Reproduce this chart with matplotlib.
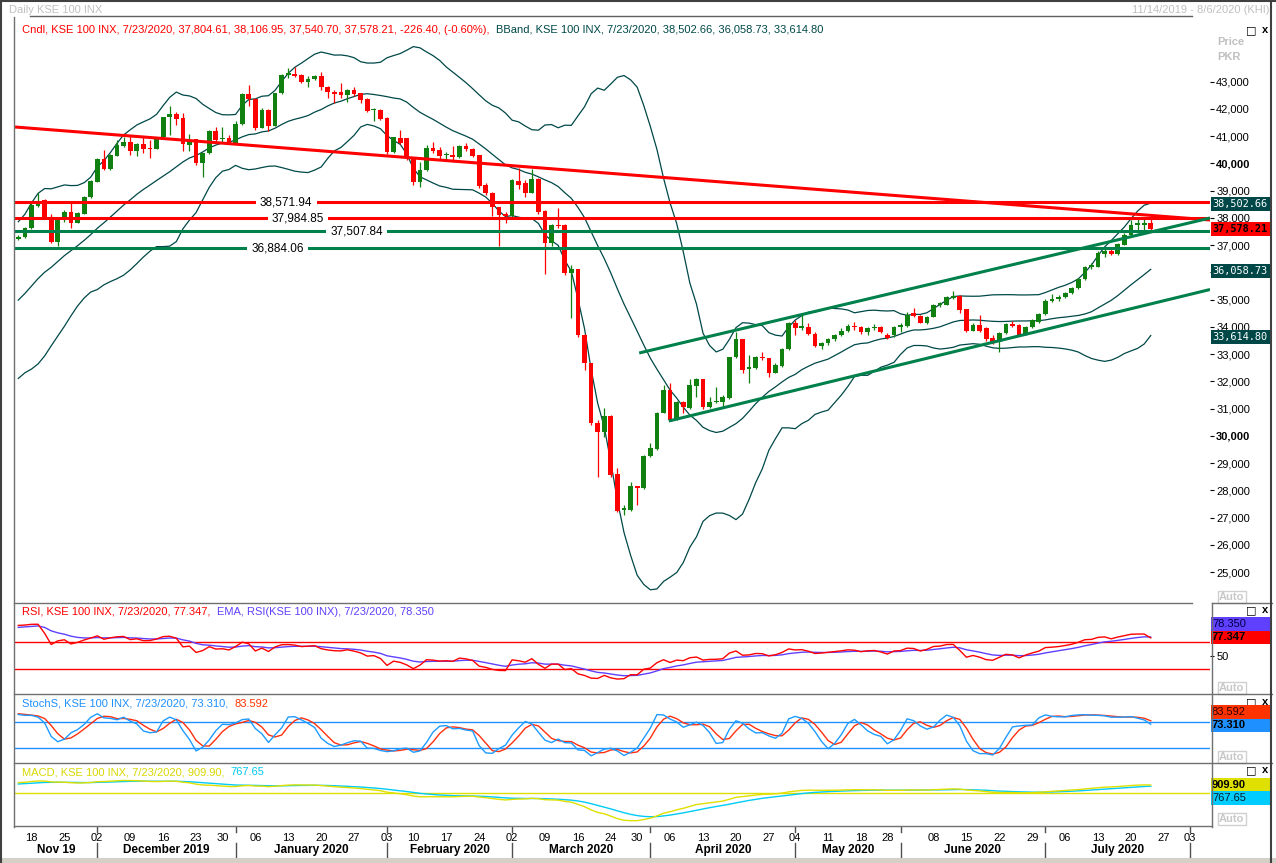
import numpy as np
import pandas as pd
import matplotlib
matplotlib.use('Agg')
import matplotlib.pyplot as plt
import matplotlib.transforms as mtransforms
from matplotlib.lines import Line2D
from matplotlib.patches import Rectangle

plt.rcParams['font.family'] = ['Liberation Sans', 'DejaVu Sans']

W, H = 1276, 863

# PSX trading calendar shown on the axis
start, end = '2019-11-14', '2020-08-06'
holidays = ['2019-12-25', '2020-02-05', '2020-03-23', '2020-05-01', '2020-05-22',
            '2020-05-25', '2020-05-26', '2020-05-27', '2020-07-31']

# closes before the first candle, only used to warm up the indicators
warmup_close = [29500, 29700, 29400, 29650, 29672, 29900, 30150, 30450, 30800, 30950,
                31200, 31400, 31100, 31300, 31600, 31900, 31600, 31550, 31850, 32200,
                32050, 31900, 31800, 32079, 31950, 31700, 31550, 31800, 32000, 32200,
                32400, 32300, 32550, 32700, 32600, 32500, 32750, 32600, 32700, 32650,
                32700, 32800, 33000, 33150, 33350, 33500, 33700, 33900, 34200, 34500,
                34850, 35150, 35500, 35800, 36050, 36250, 36450, 36650, 36650, 36950]

opens = [37215, 37288, 37618, 38450, 38658, 38046, 37126, 37949, 38230, 37826,
         38144, 38756, 39331, 40151, 39796, 40285, 40640, 40799, 40469, 40713,
         40579, 40530, 40958, 41692, 41814, 41655, 40677, 40885, 40028, 40371,
         41190, 40885, 40922, 40762, 41447, 42548, 42353, 41313, 41961, 41386,
         42573, 43246, 43282, 43246, 43001, 43086, 43221, 42817, 42634, 42634,
         42512, 42695, 42573, 42353, 41961, 41961, 41655, 40432, 40946, 40921,
         40187, 39331, 39759, 40554, 40493, 40298, 40310, 40224, 40640, 40518,
         40310, 39209, 38903, 38389, 38132, 38071, 39368, 39270, 38927, 39429,
         38255, 37092, 37728, 37741, 35991, 36114, 33704, 32664, 30486, 30156,
         30731, 28603, 27281, 27281, 28162, 28077, 29263, 29508, 30854, 31685,
         30609, 31257, 31012, 31832, 32077, 31073, 31245, 31257, 31380, 32884,
         33545, 32444, 32481, 32897, 32848, 32322, 32566, 33178, 34157, 33949,
         34010, 33741, 33300, 33400, 33550, 33700, 33850, 34050, 34000, 33800,
         33950, 33985, 33704, 33704, 33985, 34034, 34499, 34413, 34132, 34377,
         34805, 34805, 35049, 35135, 34646, 33863, 34071, 33948, 33581, 33459,
         33765, 34107, 34071, 33740, 33985, 34193, 34474, 34952, 35013, 35086,
         35233, 35416, 35747, 36187, 36211, 36676, 36799, 36676, 37006, 37373,
         37740, 37740, 37804.61]
highs = [37374, 37680, 38536, 38903, 38682, 38144, 37973, 38291, 38597, 38230,
         38805, 39392, 40187, 40493, 40334, 40860, 40982, 41007, 40762, 40958,
         40860, 40982, 41716, 42108, 41900, 41839, 41080, 40909, 40395, 41215,
         41325, 41325, 41044, 41570, 42573, 42879, 42389, 42022, 41985, 42597,
         43270, 43490, 43527, 43282, 43209, 43258, 43368, 42830, 42695, 42940,
         42720, 42817, 42597, 42389, 42022, 41985, 41692, 40982, 41227, 40921,
         40212, 40065, 40677, 40799, 40615, 40432, 40640, 40677, 40738, 40554,
         40320, 39270, 38964, 38413, 38230, 39417, 39820, 39392, 39784, 39453,
         38279, 37777, 38352, 37765, 36273, 36138, 33741, 32688, 30584, 31012,
         30756, 28810, 27465, 28321, 28180, 29288, 29728, 30890, 31869, 31930,
         31294, 31282, 32077, 32114, 32101, 31416, 31808, 31502, 32909, 33826,
         33569, 32970, 32933, 33092, 32872, 32664, 33214, 34181, 34254, 34438,
         34157, 33800, 33450, 33600, 33750, 33950, 34100, 34200, 34050, 34000,
         34100, 34034, 33765, 34034, 34132, 34560, 34682, 34438, 34401, 34829,
         34927, 35135, 35331, 35159, 34670, 34156, 34438, 33985, 33704, 33826,
         34132, 34230, 34095, 34034, 34279, 34499, 35013, 35208, 35172, 35294,
         35477, 35783, 36236, 36358, 36786, 36884, 36848, 37068, 37435, 37924,
         38000, 38050, 38106.95]
lows = [37190, 37251, 37594, 38413, 38022, 37068, 36970, 37863, 37618, 37802,
        38132, 38744, 39307, 39759, 39759, 40261, 40616, 40310, 40285, 40371,
        40212, 40518, 40933, 41044, 41411, 40469, 40469, 39943, 39490, 40346,
        40799, 40799, 40738, 40738, 41423, 42120, 41227, 41288, 41203, 41362,
        42548, 43123, 43184, 42940, 42817, 43062, 42695, 42389, 42206, 42414,
        42267, 42487, 42206, 41876, 41570, 41594, 40346, 40371, 40713, 40126,
        39209, 39123, 39735, 40371, 40126, 40101, 40065, 40187, 40469, 40248,
        39086, 38842, 38071, 36970, 37802, 38047, 39050, 38780, 38903, 38144,
        35942, 36970, 37618, 35906, 34315, 33642, 32419, 30401, 28480, 29948,
        28505, 27196, 27098, 27257, 27465, 28052, 29239, 29484, 30829, 30560,
        30584, 30854, 30976, 31416, 30976, 31037, 31220, 31037, 31355, 32860,
        32322, 31930, 32444, 32786, 32150, 32297, 32542, 33153, 33704, 33887,
        33704, 33250, 33200, 33350, 33500, 33650, 33800, 33900, 33750, 33700,
        33900, 33765, 33545, 33642, 33826, 34010, 34377, 34132, 34107, 34352,
        34719, 34793, 35025, 34523, 33826, 33838, 33826, 33496, 33373, 33092,
        33740, 33985, 33679, 33704, 33948, 34156, 34450, 34927, 34951, 35049,
        35208, 35392, 35722, 36114, 36187, 36554, 36640, 36652, 36994, 37349,
        37435, 37550, 37540.70]
closes = [37313, 37618, 38475, 38597, 38046, 37126, 37949, 38230, 37802, 38169,
          38781, 39368, 40175, 39796, 40310, 40677, 40799, 40469, 40713, 40518,
          40542, 40958, 41692, 41814, 41631, 40713, 40860, 40028, 40371, 41190,
          40860, 40922, 40762, 41447, 42548, 42353, 41288, 41961, 41386, 42573,
          43246, 43307, 43221, 43001, 43099, 43221, 42817, 42634, 42536, 42512,
          42695, 42536, 42328, 41924, 41985, 41619, 40432, 40958, 40738, 40224,
          39331, 39759, 40554, 40469, 40273, 40322, 40224, 40640, 40518, 40273,
          39184, 38903, 38389, 38108, 38071, 39392, 39209, 38927, 39429, 38206,
          37068, 37741, 37704, 35967, 36114, 33704, 32664, 30462, 30156, 30731,
          28566, 27257, 27342, 28162, 28077, 29263, 29545, 30854, 31685, 30584,
          31257, 31049, 31869, 32077, 31073, 31257, 31282, 31416, 32884, 33545,
          32419, 32517, 32909, 32860, 32322, 32603, 33178, 34157, 33949, 34034,
          33741, 33300, 33400, 33550, 33700, 33850, 34050, 34000, 33800, 33950,
          34000, 33826, 33581, 34010, 34071, 34438, 34401, 34156, 34377, 34805,
          34866, 35110, 35135, 34621, 33863, 34071, 33863, 33545, 33459, 33765,
          34107, 34034, 33704, 34010, 34254, 34474, 34964, 35025, 35110, 35257,
          35441, 35747, 36211, 36273, 36701, 36799, 36676, 37043, 37373, 37740,
          37801, 37804.61, 37578.21]

# horizontal levels drawn on the chart
levels = [38571.94, 37984.85, 37507.84, 36884.06]
level_is_red = [True, True, False, False]
level_label_pos = [40.7, 42.5, 51.4, 39.4]

# trend lines, (bar index, price) at both ends
trend_red = [(-0.5, 41338), (181, 37925)]
channel_top = [(94.3, 33044), (181, 37998)]
channel_bottom = [(98.8, 30549), (181, 35374)]

# last values printed in the legends / right scale
last_bband = [38502.66, 36058.73, 33614.80]
last_rsi, last_rsi_ema = 77.347, 78.350
last_k, last_d = 73.310, 83.592
last_macd, last_signal = 909.90, 767.65

RED = '#ff0000'
CGREEN = '#108010'
LGREEN = '#00804a'
BB = '#004848'
GRID = '#707070'

days = pd.bdate_range(start, end)
days = days[~days.isin(pd.to_datetime(holidays))]

o = np.array(opens, float)
h = np.array(highs, float)
l = np.array(lows, float)
c = np.array(closes, float)
n = len(c)
x = np.arange(n)
k0 = len(warmup_close)

# indicators
allc = pd.Series(warmup_close + closes, dtype=float)
allh = pd.Series(warmup_close + highs, dtype=float)
alll = pd.Series(warmup_close + lows, dtype=float)
mid = allc.rolling(20).mean()
sd = allc.rolling(20).std(ddof=0)
bb_up = (mid + 2 * sd).values[k0:]
bb_lo = (mid - 2 * sd).values[k0:]
bb_mid = mid.values[k0:]

d = allc.diff()
ag = d.clip(lower=0).ewm(alpha=1 / 14, adjust=False).mean()
al = (-d.clip(upper=0)).ewm(alpha=1 / 14, adjust=False).mean()
rsi = 100 - 100 / (1 + ag / al)
rsi_ema = rsi.ewm(span=9, adjust=False).mean()

hh = allh.rolling(5).max()
ll = alll.rolling(5).min()
stk = 100 * (allc - ll).rolling(3).sum() / (hh - ll).rolling(3).sum()
std_ = stk.rolling(3).mean()

macd = allc.ewm(span=12, adjust=False).mean() - allc.ewm(span=26, adjust=False).mean()
sig = macd.ewm(span=9, adjust=False).mean()

rsi, rsi_ema = rsi.values[k0:], rsi_ema.values[k0:]
stk, std_ = stk.values[k0:], std_.values[k0:]
macd, sig = macd.values[k0:], sig.values[k0:]

fig = plt.figure(figsize=(W / 100, H / 100), dpi=100)
fig.patch.set_facecolor('white')


def add_ax(x0, y0, x1, y1):
    a = fig.add_axes([x0 / W, 1 - y1 / H, (x1 - x0) / W, (y1 - y0) / H])
    for s in a.spines.values():
        s.set_visible(False)
    a.set_xlim(-0.5, 181)
    a.set_xticks([])
    a.yaxis.tick_right()
    a.tick_params(axis='y', direction='out', length=3, width=0.8, pad=1.5,
                  labelsize=8, colors='black')
    return a


def fline(xs, ys, color=GRID, lw=1.0):
    fig.add_artist(Line2D([v / W for v in xs], [1 - v / H for v in ys],
                          color=color, lw=lw, zorder=30))


ax = add_ax(15, 18, 1210, 603)
ax_r = add_ax(15, 603, 1210, 694)
ax_s = add_ax(15, 694, 1210, 763)
ax_m = add_ax(15, 763, 1210, 826)

# ---- price panel
ax.set_ylim(23870, 45338)
ax.plot(x, bb_up, color=BB, lw=0.9)
ax.plot(x, bb_mid, color=BB, lw=0.9)
ax.plot(x, bb_lo, color=BB, lw=0.9)

cols = np.where(c >= o, CGREEN, RED)
ax.vlines(x, l, h, colors=cols, lw=0.9, zorder=3)
ax.bar(x, np.maximum(np.abs(c - o), 35), bottom=np.minimum(o, c), width=0.72,
       color=cols, linewidth=0, zorder=3)

for lv, isred, lp in zip(levels, level_is_red, level_label_pos):
    ax.axhline(lv, color=RED if isred else LGREEN, lw=2.2, zorder=4)
    ax.text(lp, lv, f'{lv:,.2f}', ha='center', va='center', fontsize=8.5, zorder=5,
            bbox=dict(boxstyle='square,pad=0.35', fc='white', ec='none'))

for seg, col in [(trend_red, RED), (channel_top, LGREEN), (channel_bottom, LGREEN)]:
    ax.plot([p[0] for p in seg], [p[1] for p in seg], color=col, lw=2.2, zorder=4,
            solid_capstyle='butt')

# 36,000 sits under the middle band box on the original scale
ticks = list(range(25000, 44000, 1000))
ax.set_yticks(ticks)
ax.set_yticklabels(['' if t == 36000 else f'{t:,}' for t in ticks])
for t, lab in zip(ticks, ax.get_yticklabels()):
    if t in (30000, 40000):
        lab.set_fontweight('bold')

# ---- RSI
ax_r.set_ylim(-7.0, 127.8)
ax_r.axhline(70, color=RED, lw=1.0)
ax_r.axhline(30, color=RED, lw=1.0)
ax_r.plot(x, rsi_ema, color='#6040ff', lw=1.0)
ax_r.plot(x, rsi, color=RED, lw=1.0)
ax_r.set_yticks([50])

# ---- Stochastic
ax_s.set_ylim(-14.6, 144.6)
ax_s.axhline(80, color='#1e90ff', lw=1.0)
ax_s.axhline(20, color='#1e90ff', lw=1.0)
ax_s.plot(x, std_, color='#ff3010', lw=1.0)
ax_s.plot(x, stk, color='#1e9bff', lw=1.0)
ax_s.set_yticks([])

# ---- MACD
ax_m.set_ylim(-3745, 3405)
ax_m.axhline(0, color='#e0e000', lw=1.0)
ax_m.plot(x, sig, color='#00ccf5', lw=1.0)
ax_m.plot(x, macd, color='#e0e000', lw=1.0)
ax_m.set_yticks([])


# ---- value boxes on the right scale
def value_box(a, val, text, fc, tc, bold=False, dy=0, mono=False):
    yc = a.transData.transform((0, val))[1] + dy
    fig.add_artist(Rectangle((1211 / W, (yc - 7) / H), 61 / W, 14 / H,
                             transform=fig.transFigure, fc=fc, ec='none', zorder=20))
    fig.text(1212 / W, yc / H, text, color=tc, fontsize=7.4 if mono else 8,
             va='center', ha='left',
             fontweight='bold' if bold else 'normal', zorder=21,
             family=['DejaVu Sans Mono'] if mono else None)


value_box(ax, last_bband[0], f'{last_bband[0]:,.2f}', BB, 'white', mono=True)
value_box(ax, closes[-1], f'{closes[-1]:,.2f}', RED, 'black', bold=True, mono=True)
value_box(ax, last_bband[1], f'{last_bband[1]:,.2f}', BB, 'white', mono=True)
value_box(ax, last_bband[2], f'{last_bband[2]:,.2f}', BB, 'white', mono=True)
value_box(ax_r, last_rsi, f'{last_rsi:.3f}', RED, 'black', bold=True)
value_box(ax_r, last_rsi, f'{last_rsi_ema:.3f}', '#6040ff', '#000040', dy=13)
value_box(ax_s, last_k, f'{last_k:.3f}', '#1e90ff', 'black', bold=True)
value_box(ax_s, last_k, f'{last_d:.3f}', '#ff3300', '#300000', dy=13)
value_box(ax_m, last_macd, f'{last_macd:.2f}', '#e0e000', 'black', bold=True)
value_box(ax_m, last_macd, f'{last_signal:.2f}', '#00ccff', '#002030', dy=-13)


# ---- legends
def legend(a, y_px, parts):
    t = a.text(22 / W, 1 - y_px / H, parts[0][0], color=parts[0][1], fontsize=8,
               va='center', ha='left', transform=fig.transFigure)
    for s, col in parts[1:]:
        t = a.annotate(s, xy=(1, 0.5), xycoords=t, va='center', ha='left',
                       color=col, fontsize=8, annotation_clip=False)


legend(ax, 30, [('Cndl, KSE 100 INX, 7/23/2020, 37,804.61, 38,106.95, 37,540.70, '
                 '37,578.21, -226.40, (-0.60%),  ', RED),
                ('BBand, KSE 100 INX, 7/23/2020, 38,502.66, 36,058.73, 33,614.80', BB)])
legend(ax_r, 612, [('RSI, KSE 100 INX, 7/23/2020, 77.347,  ', RED),
                   ('EMA, RSI(KSE 100 INX), 7/23/2020, 78.350', '#6040ff')])
legend(ax_s, 704, [('StochS, KSE 100 INX, 7/23/2020, 73.310,  ', '#1e90ff'),
                   ('83.592', '#ff3300')])
legend(ax_m, 772, [('MACD, KSE 100 INX, 7/23/2020, 909.90,  ', '#d8d800'),
                   ('767.65', '#00c8f0')])

fig.text(9 / W, 1 - 10 / H, 'Daily KSE 100 INX', color='#c0c0c0', fontsize=8, va='center')
fig.text(1270 / W, 1 - 10 / H, '11/14/2019 - 8/6/2020 (KHI)', color='#c0c0c0',
         fontsize=8, va='center', ha='right')
fig.text(1217 / W, 1 - 42 / H, 'Price', color='#c0c0c0', fontsize=8, fontweight='bold', va='center')
fig.text(1217 / W, 1 - 57 / H, 'PKR', color='#c0c0c0', fontsize=8, fontweight='bold', va='center')

for yp in (30, 610, 702, 770):
    fig.text(1251 / W, 1 - yp / H, '\u25a1', fontsize=8, fontweight='bold', va='center',
             ha='center', family=['DejaVu Sans'])
    fig.text(1265 / W, 1 - yp / H, 'x', fontsize=8, fontweight='bold', va='center', ha='center')

for yp in (597, 688, 757, 819):
    fig.text(1219 / W, 1 - yp / H, 'Auto', color='#c8c8c8', fontsize=8, fontweight='bold',
             va='center', ha='left',
             bbox=dict(boxstyle='square,pad=0.12', fc='white', ec='#d0d0d0', lw=1))

# ---- date axis
tr = mtransforms.blended_transform_factory(ax_m.transData, fig.transFigure)
px_per_bar = 1195 / 181.5
last_lab = -99
weeks = pd.Series(np.arange(len(days)), index=days)
iso = days.isocalendar()
week_starts = weeks.groupby([iso.year.values, iso.week.values]).min()
for i in sorted(week_starts.values):
    if i == 0 or (i - last_lab) * px_per_bar < 20:
        continue
    ax_m.text(i, 1 - 838 / H, days[i].strftime('%d'), transform=tr, ha='center',
              va='center', fontsize=8, clip_on=False)
    last_lab = i

month_first = weeks.groupby([days.year, days.month]).min()
bounds = [i for i in month_first.values if i > 0]
edges = [-0.5] + bounds + [181]
for b in bounds:
    ax_m.plot([b, b], [1 - 843 / H, 1 - 857 / H], transform=tr, color='#505050',
              lw=1, clip_on=False)
    ax_m.plot([b, b], [1 - 827 / H, 1 - 832 / H], transform=tr, color='#505050',
              lw=1, clip_on=False)
for a0, a1 in zip(edges[:-1], edges[1:]):
    w = (a1 - a0) * px_per_bar
    if w < 40:
        continue
    dt = days[int(max(a0, 0))]
    lab = dt.strftime('%B %Y') if w > 95 else dt.strftime('%b %y')
    ax_m.text((a0 + a1) / 2, 1 - 850 / H, lab, transform=tr, ha='center', va='center',
              fontsize=8.5, fontweight='bold', clip_on=False)

# ---- frame
fline([30, 1192], [16, 16], '#606060')
fline([14, 14], [17, 827], '#707070')
fline([14, 1192], [603, 603], '#707070')
fline([1212, 1272], [603, 603], '#707070')
fline([1212, 1212], [603, 827], '#707070')
fline([14, 1272], [694, 694], '#707070')
fline([14, 1272], [763, 763], '#707070')
fline([14, 1212], [826, 826], '#707070')
fline([1271, 1271], [0, 863], '#404040', 1.5)
fline([0, 1276], [1, 1], '#404040', 1.5)
fline([1, 1], [0, 863], '#404040', 1.5)
fig.add_artist(Rectangle((0, 0), 1, 5 / H, transform=fig.transFigure, fc='#d4d0c8',
                         ec='none', zorder=29))

fig.savefig('out.png', dpi=100)
